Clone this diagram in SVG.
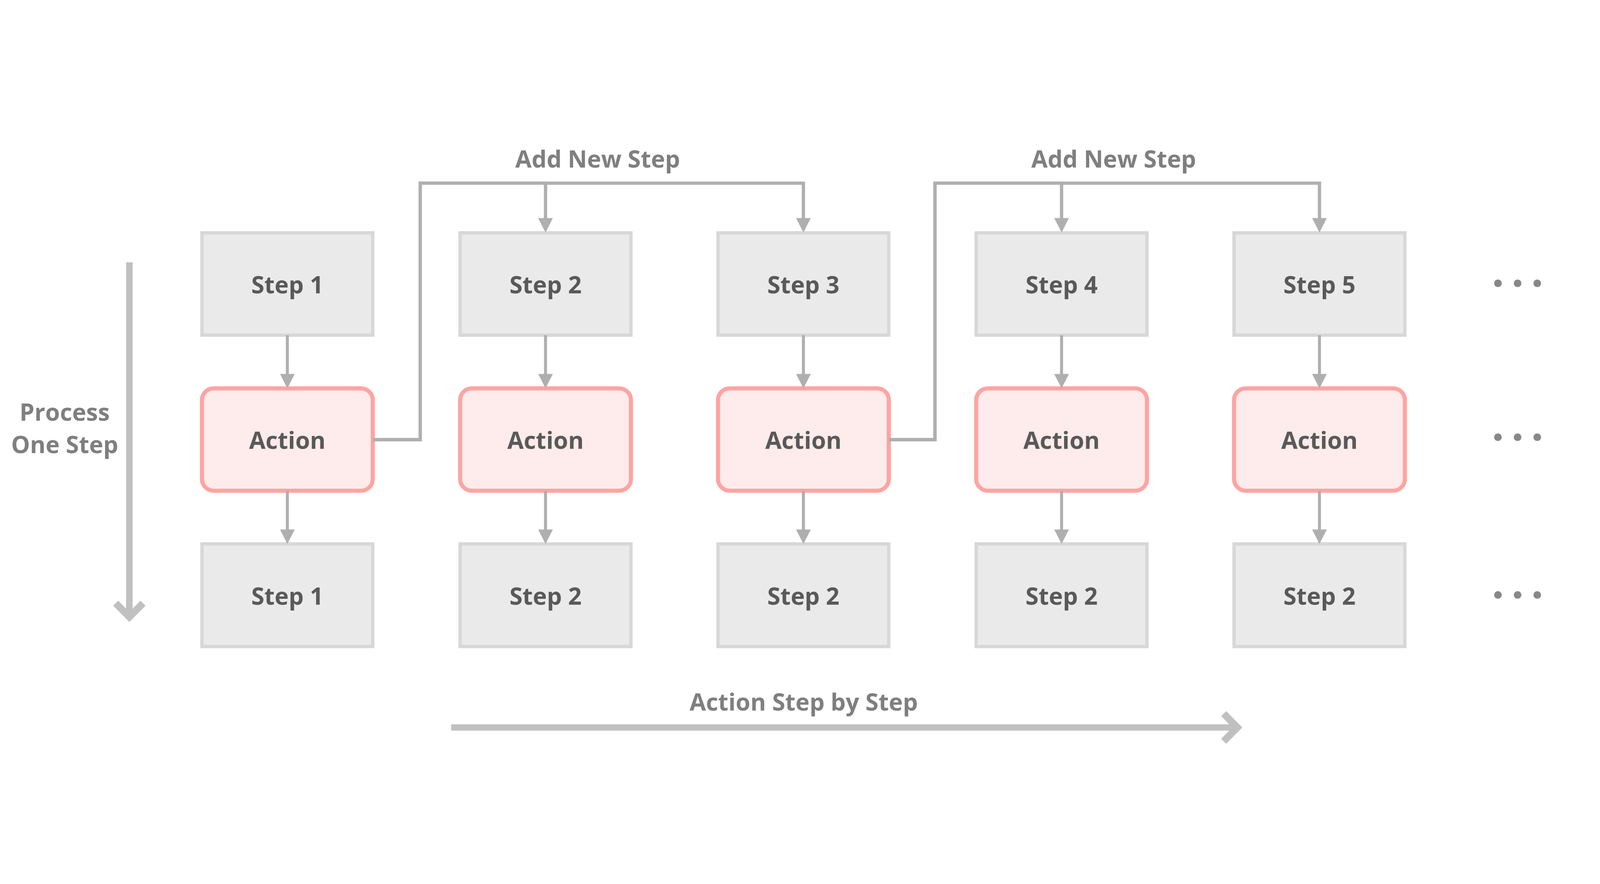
<svg xmlns="http://www.w3.org/2000/svg" width="5863" height="2263" viewBox="0 0 5863 2263" preserveAspectRatio="xMidYMid meet">
  <style>
    svg { width: 100vw; height: 100vh; }
    .step { fill: #EAEAEA; stroke: #D7D7D7; stroke-width: 12; }
    .action { fill: #FEEBEB; stroke: #FEA4A2; stroke-width: 15; }
    .lbl { font-family: "Open Sans", "Noto Sans", "DejaVu Sans", sans-serif; font-weight: 700; font-size: 87px; text-anchor: middle; }
    .node-t { fill: #595959; }
    .side-t { fill: #7F7F7F; }
    .conn { fill: none; stroke: #AFAFAF; stroke-width: 12; stroke-linejoin: miter; marker-end: url(#ah); }
    .vconn { fill: none; stroke: #AFAFAF; stroke-width: 11; marker-end: url(#ah); }
    .big { fill: none; stroke: #C0C0C0; }
    .dot { fill: #888888; }
  </style>
  <defs>
    <marker id="ah" markerUnits="userSpaceOnUse" viewBox="0 0 53 54" markerWidth="53" markerHeight="54" refX="3" refY="27" orient="auto">
      <path d="M0,0 L53,27 L0,54 Z" fill="#AFAFAF"/>
    </marker>
  </defs>
  <rect width="5863" height="2263" fill="#FFFFFF"/>

  <!-- side labels and big arrows -->
  <g id="process-one-step">
    <line class="big" x1="474" y1="473" x2="474" y2="1765" stroke-width="24"/>
    <polyline class="big" points="424,1722 474,1772.5 524,1722" stroke-width="26" stroke-linejoin="miter" stroke-miterlimit="10"/>
    <text class="lbl side-t" x="237" y="1053">Process</text>
    <text class="lbl side-t" x="237" y="1172">One Step</text>
  </g>
  <g id="action-step-by-step">
    <line class="big" x1="1653" y1="2177.5" x2="4525" y2="2177.5" stroke-width="23"/>
    <polyline class="big" points="4484,2127 4534,2177.5 4484,2228" stroke-width="26" stroke-linejoin="miter" stroke-miterlimit="10"/>
    <text class="lbl side-t" x="2945" y="2115">Action Step by Step</text>
  </g>
  <g id="add-new-step-labels">
    <text class="lbl side-t" x="2190" y="126">Add New Step</text>
    <text class="lbl side-t" x="4081" y="126">Add New Step</text>
  </g>

  <!-- column 1 -->
  <g id="step1-top"><rect class="step" x="740" y="365" width="626" height="375"/><text class="lbl node-t" x="1053" y="587">Step 1</text></g>
  <g id="action1"><rect class="action" x="740" y="935" width="626" height="375" rx="43" ry="43"/><text class="lbl node-t" x="1053" y="1157">Action</text></g>
  <g id="step1-bottom"><rect class="step" x="740" y="1505" width="626" height="376"/><text class="lbl node-t" x="1053" y="1727">Step 1</text></g>

  <!-- column 2 -->
  <g id="step2-top"><rect class="step" x="1686" y="365" width="626" height="375"/><text class="lbl node-t" x="1999" y="587">Step 2</text></g>
  <g id="action2"><rect class="action" x="1686" y="935" width="626" height="375" rx="43" ry="43"/><text class="lbl node-t" x="1999" y="1157">Action</text></g>
  <g id="step2-bottom"><rect class="step" x="1686" y="1505" width="626" height="376"/><text class="lbl node-t" x="1999" y="1727">Step 2</text></g>

  <!-- column 3 -->
  <g id="step3-top"><rect class="step" x="2631" y="365" width="626" height="375"/><text class="lbl node-t" x="2944" y="587">Step 3</text></g>
  <g id="action3"><rect class="action" x="2631" y="935" width="626" height="375" rx="43" ry="43"/><text class="lbl node-t" x="2944" y="1157">Action</text></g>
  <g id="step3-bottom"><rect class="step" x="2631" y="1505" width="626" height="376"/><text class="lbl node-t" x="2944" y="1727">Step 2</text></g>

  <!-- column 4 -->
  <g id="step4-top"><rect class="step" x="3577" y="365" width="626" height="375"/><text class="lbl node-t" x="3890" y="587">Step 4</text></g>
  <g id="action4"><rect class="action" x="3577" y="935" width="626" height="375" rx="43" ry="43"/><text class="lbl node-t" x="3890" y="1157">Action</text></g>
  <g id="step4-bottom"><rect class="step" x="3577" y="1505" width="626" height="376"/><text class="lbl node-t" x="3890" y="1727">Step 2</text></g>

  <!-- column 5 -->
  <g id="step5-top"><rect class="step" x="4522" y="365" width="626" height="375"/><text class="lbl node-t" x="4835" y="587">Step 5</text></g>
  <g id="action5"><rect class="action" x="4522" y="935" width="626" height="375" rx="43" ry="43"/><text class="lbl node-t" x="4835" y="1157">Action</text></g>
  <g id="step5-bottom"><rect class="step" x="4522" y="1505" width="626" height="376"/><text class="lbl node-t" x="4835" y="1727">Step 2</text></g>

  <!-- ellipsis -->
  <g id="ellipsis">
    <circle class="dot" cx="5489" cy="550" r="14"/><circle class="dot" cx="5561" cy="550" r="14"/><circle class="dot" cx="5633" cy="550" r="14"/>
    <circle class="dot" cx="5489" cy="1114" r="14"/><circle class="dot" cx="5561" cy="1114" r="14"/><circle class="dot" cx="5633" cy="1114" r="14"/>
    <circle class="dot" cx="5489" cy="1692" r="14"/><circle class="dot" cx="5561" cy="1692" r="14"/><circle class="dot" cx="5633" cy="1692" r="14"/>
  </g>

  <!-- connectors -->
  <g id="connectors">
    <path class="vconn" d="M1053,740 V885"/>
    <path class="vconn" d="M1053,1310 V1455"/>
    <path class="vconn" d="M1999,740 V885"/>
    <path class="vconn" d="M1999,1310 V1455"/>
    <path class="vconn" d="M2944,740 V885"/>
    <path class="vconn" d="M2944,1310 V1455"/>
    <path class="vconn" d="M3890,740 V885"/>
    <path class="vconn" d="M3890,1310 V1455"/>
    <path class="vconn" d="M4835,740 V885"/>
    <path class="vconn" d="M4835,1310 V1455"/>
    <path class="conn" d="M1366,1123 H1540 V183 H1999 V314"/>
    <path class="conn" d="M1366,1123 H1540 V183 H2944 V314"/>
    <path class="conn" d="M3257,1123 H3426 V183 H3890 V314"/>
    <path class="conn" d="M3257,1123 H3426 V183 H4835 V314"/>
  </g>
</svg>
